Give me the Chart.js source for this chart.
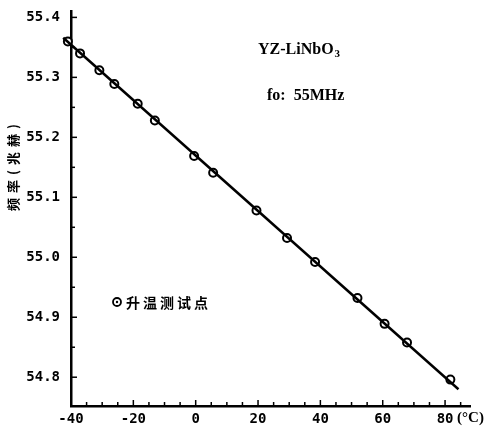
<!DOCTYPE html>
<html>
<head>
<meta charset="utf-8">
<script src="https://cdn.jsdelivr.net/npm/chart.js@4"></script>
<style>
  html, body { margin: 0; padding: 0; background: #fff; }
  #wrap { width: 484px; height: 430px; }
</style>
</head>
<body>
<div id="wrap"><canvas id="freqChart" width="484" height="430"></canvas></div>
<script>
// measured points (temperature in °C, frequency in MHz)
var temps = [-41, -37.1, -30.9, -26.1, -18.6, -13.1, -0.5, 5.6, 19.5, 29.3, 38.3, 51.9, 60.6, 67.8, 81.7];
var freqs = [55.360, 55.340, 55.312, 55.289, 55.256, 55.228, 55.169, 55.141, 55.078, 55.032, 54.992, 54.932, 54.889, 54.858, 54.796];
// drawn straight line, its two ends
var lineX = [-42.5, 84.3];
var lineY = [55.366, 54.780];
var xLabels = [-40, -20, 0, 20, 40, 60, 80];
var yLabels = [54.8, 54.9, 55.0, 55.1, 55.2, 55.3, 55.4];

var tickFont = { family: 'DejaVu Sans Mono', size: 14, weight: 'bold' };

function toPts(xs, ys){
    return xs.map(function(x, i){ return { x: x, y: ys[i] }; });
}

// inward ticks, the axis title and the notes
var extras = {
    id: 'extras',
    afterDraw: function(chart){
        var ctx = chart.ctx;
        var xs = chart.scales.x, ys = chart.scales.y;
        var area = chart.chartArea;
        ctx.save();
        ctx.strokeStyle = '#000';
        ctx.lineWidth = 1.5;
        // x ticks every 5
        for (var v = -35; v <= 85; v += 5) {
            var px = xs.getPixelForValue(v);
            var len = (v % 20 === 0) ? 6 : 4;
            ctx.beginPath();
            ctx.moveTo(px, area.bottom);
            ctx.lineTo(px, area.bottom - len);
            ctx.stroke();
        }
        // y ticks every 0.05
        for (var k = 0; k <= 12; k++) {
            var val = 54.8 + k * 0.05;
            var py = ys.getPixelForValue(val);
            var l = (k % 2 === 0) ? 6 : 4;
            ctx.beginPath();
            ctx.moveTo(area.left, py);
            ctx.lineTo(area.left + l, py);
            ctx.stroke();
        }

        ctx.fillStyle = '#000';
        // unit after 80
        ctx.font = 'bold 15px "Liberation Serif"';
        ctx.textBaseline = 'middle';
        ctx.textAlign = 'left';
        ctx.fillText('(°C)', xs.getPixelForValue(80) + 12, 418);

        // y title, rotated
        ctx.save();
        ctx.translate(13, 165);
        ctx.rotate(-Math.PI / 2);
        ctx.font = 'bold 13px "Noto Sans CJK SC"';
        ctx.textAlign = 'center';
        ctx.textBaseline = 'middle';
        ctx.letterSpacing = '5px';
        ctx.fillText('频率(兆赫)', 0, 0);
        ctx.restore();

        // notes
        ctx.font = 'bold 16px "Liberation Serif"';
        ctx.textAlign = 'left';
        ctx.textBaseline = 'alphabetic';
        ctx.fillText('YZ-LiNbO', 258, 54);
        var w = ctx.measureText('YZ-LiNbO').width;
        ctx.font = 'bold 11px "Liberation Serif"';
        ctx.fillText('3', 258 + w + 1, 57);
        ctx.font = 'bold 16px "Liberation Serif"';
        ctx.fillText('fo:  55MHz', 267, 100);

        // legend marker and text
        ctx.beginPath();
        ctx.arc(117, 302, 4, 0, Math.PI * 2);
        ctx.fillStyle = '#fff';
        ctx.fill();
        ctx.lineWidth = 1.8;
        ctx.stroke();
        ctx.beginPath();
        ctx.arc(117, 302, 1.2, 0, Math.PI * 2);
        ctx.fillStyle = '#000';
        ctx.fill();
        ctx.font = 'bold 14px "Noto Sans CJK SC"';
        ctx.textBaseline = 'middle';
        ctx.letterSpacing = '3px';
        ctx.fillText('升温测试点', 126, 303);
        ctx.restore();
    }
};

var chart = new Chart(document.getElementById('freqChart').getContext('2d'), {
    type: 'scatter',
    data: {
        datasets: [{
            label: 'line',
            data: toPts(lineX, lineY),
            showLine: true,
            borderColor: '#000',
            borderWidth: 2.5,
            pointRadius: 0,
            clip: false
        }, {
            label: '升温测试点',
            data: toPts(temps, freqs),
            pointRadius: 4,
            pointBorderWidth: 2,
            pointBackgroundColor: '#fff',
            pointBorderColor: '#000',
            clip: false
        }, {
            label: 'dot',
            data: toPts(temps, freqs),
            pointRadius: 1.2,
            pointBorderWidth: 0,
            pointBackgroundColor: '#000',
            clip: false
        }]
    },
    options: {
        responsive: false,
        animation: false,
        layout: { padding: { top: 10, right: 14, left: 0, bottom: 0 } },
        plugins: { legend: { display: false }, tooltip: { enabled: false } },
        scales: {
            x: {
                type: 'linear',
                min: -40,
                max: 88,
                afterFit: function(s){ s.height = 24; },
                afterBuildTicks: function(s){
                    s.ticks = xLabels.map(function(v){ return { value: v }; });
                },
                border: { color: '#000', width: 2.5 },
                grid: { display: false },
                ticks: {
                    autoSkip: false,
                    maxRotation: 0,
                    color: '#000',
                    font: tickFont,
                    padding: -3,
                    callback: function(v){
                        return v < 0 ? '-' + Math.abs(v) : String(v);
                    }
                }
            },
            y: {
                type: 'linear',
                min: 54.752,
                max: 55.41,
                afterFit: function(s){ s.width = 71; },
                afterBuildTicks: function(s){
                    s.ticks = yLabels.map(function(v){ return { value: v }; });
                },
                border: { color: '#000', width: 2.5 },
                grid: { display: false },
                ticks: {
                    autoSkip: false,
                    color: '#000',
                    font: tickFont,
                    padding: 3,
                    callback: function(v){ return v.toFixed(1); }
                }
            }
        }
    },
    plugins: [extras]
});
</script>
</body>
</html>
